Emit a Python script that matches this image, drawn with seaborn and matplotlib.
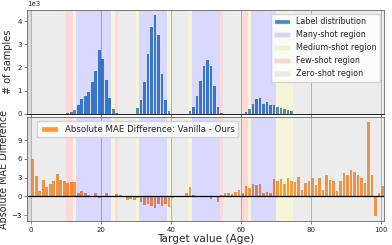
import numpy as np
import pandas as pd
import seaborn as sns
import matplotlib.pyplot as plt
import matplotlib.ticker as mtick
from matplotlib.patches import Patch

# ages 0..100
ages = list(range(0, 101))

label_counts = [
    0, 0, 0, 0, 0, 0, 0, 0, 0, 0,
    30, 70, 170, 370, 630, 770, 940, 1360, 1860, 2750,
    2350, 1470, 670, 230, 60, 0, 0, 0, 0, 0,
    240, 600, 1390, 2570, 3740, 4260, 3400, 1740, 600, 130,
    0, 0, 0, 0, 0, 130, 310, 770, 1420, 2070,
    2330, 2070, 1200, 310, 60, 0, 0, 0, 0, 0,
    0, 70, 230, 450, 630, 700, 450, 520, 380, 370,
    290, 240, 200, 170, 130, 0, 0, 0, 0, 0,
    0, 0, 0, 0, 0, 0, 0, 0, 0, 0,
    0, 0, 0, 0, 0, 0, 0, 0, 0, 0,
    0,
]

mae_diff = [
    5.9, 3.2, 0.8, 2.7, 1.5, 2.0, 2.4, 3.6, 2.6, 2.4,
    2.2, 2.35, 2.35, 0.55, 0.9, 0.6, 0.3, 0.05, 0.5, -0.25,
    0.15, 0.5, -0.15, -0.05, 0.45, 0.2, 0.0, -0.5, -0.35, -0.55,
    -0.2, -0.8, -1.3, -1.25, -1.45, -1.8, -1.2, -1.5, -1.25, -1.6,
    -0.3, -0.05, 0.05, 0.15, 0.6, 1.5, 0.27, 0.15, 0.15, 0.0,
    0.1, -0.4, 0.05, -0.85, 0.25, 0.6, 0.6, 0.4, 0.75, 1.0,
    0.5, 1.75, 1.35, 1.95, 1.8, 2.0, 0.55, 0.75, 0.6, 2.85,
    2.4, 2.85, 2.05, 3.0, 2.4, 2.3, 3.1, 1.1, 2.15, 2.4,
    2.95, 1.9, 3.0, 1.1, 3.4, 2.7, 2.5, 0.95, 2.45, 3.8,
    3.4, 4.2, 3.9, 3.5, 3.0, 2.2, 11.9, 3.4, -3.15, 0.6,
    1.75,
]

# shot regions (age ranges)
many_shot = [(13, 23), (31, 39), (46, 54), (63, 70)]
medium_shot = [(12, 13), (23, 24), (30, 31), (39, 40), (45, 46), (62, 63), (70, 75)]
few_shot = [(10, 12), (24, 25), (54, 55), (60, 62)]
zero_shot = [(-1, 0), (-1, 10), (25, 30), (40, 45), (55, 60), (75, 101)]

region_styles = [
    ("Many-shot region", many_shot, "blue"),
    ("Medium-shot region", medium_shot, "y"),
    ("Few-shot region", few_shot, "r"),
    ("Zero-shot region", zero_shot, "gray"),
]

df = pd.DataFrame({"age": ages, "count": label_counts, "diff": mae_diff})
bins = list(range(0, 102))

sns.set_style("ticks")
plt.rcParams['font.family'] = ['DejaVu Sans']

fig, (ax1, ax2) = plt.subplots(2, 1, figsize=(3.92, 2.45), dpi=100, sharex=True)
fig.subplots_adjust(left=0.07, right=0.98, top=0.959, bottom=0.098, hspace=0.03)

sns.histplot(data=df, x="age", weights="count", bins=bins, shrink=0.8,
             color="tab:blue", alpha=0.85, linewidth=0, ax=ax1)
sns.histplot(data=df, x="age", weights="diff", bins=bins, shrink=0.8,
             color="tab:orange", alpha=0.8, linewidth=0, ax=ax2)

for ax in (ax1, ax2):
    for name, spans, col in region_styles:
        for s, e in spans:
            ax.axvspan(s, e, color=col, alpha=0.15, lw=0)
    ax.grid(axis="x", color="#b0b0b0", lw=0.6)
    ax.tick_params(labelsize=5, length=2.5, width=0.5, pad=1.5, color="0.3")
    for sp in ax.spines.values():
        sp.set_linewidth(0.6)
        sp.set_color("0.4")
ax1.spines["bottom"].set_color("k")

ax2.axhline(0, color="k", lw=0.9)

ax1.set_xlim(-1, 101)
ax1.ticklabel_format(axis="y", style="sci", scilimits=(0, 0))
ax1.yaxis.get_offset_text().set_fontsize(5)
ax2.yaxis.set_major_locator(mtick.FixedLocator([-3, 0, 3, 6, 9]))
ax2.xaxis.set_major_locator(mtick.MultipleLocator(20))

ax1.set_ylabel("# of samples", fontsize=7.0, labelpad=3)
ax2.set_ylabel("Absolute MAE Difference", fontsize=6.9, labelpad=1.5)
ax1.set_xlabel("")
ax2.set_xlabel("Target value (Age)", fontsize=7.6, labelpad=1)

handles1 = [Patch(facecolor="tab:blue", alpha=0.85, label="Label distribution")]
for name, spans, col in region_styles:
    handles1.append(Patch(facecolor=col, alpha=0.15, label=name))
ax1.legend(handles=handles1, loc="upper right", fontsize=5.8)

handles2 = [Patch(facecolor="tab:orange", alpha=0.8,
                  label="Absolute MAE Difference: Vanilla - Ours")]
ax2.legend(handles=handles2, loc="upper left", bbox_to_anchor=(0.016, 1.0), fontsize=6.2)

fig.savefig("out.png", dpi=100)
